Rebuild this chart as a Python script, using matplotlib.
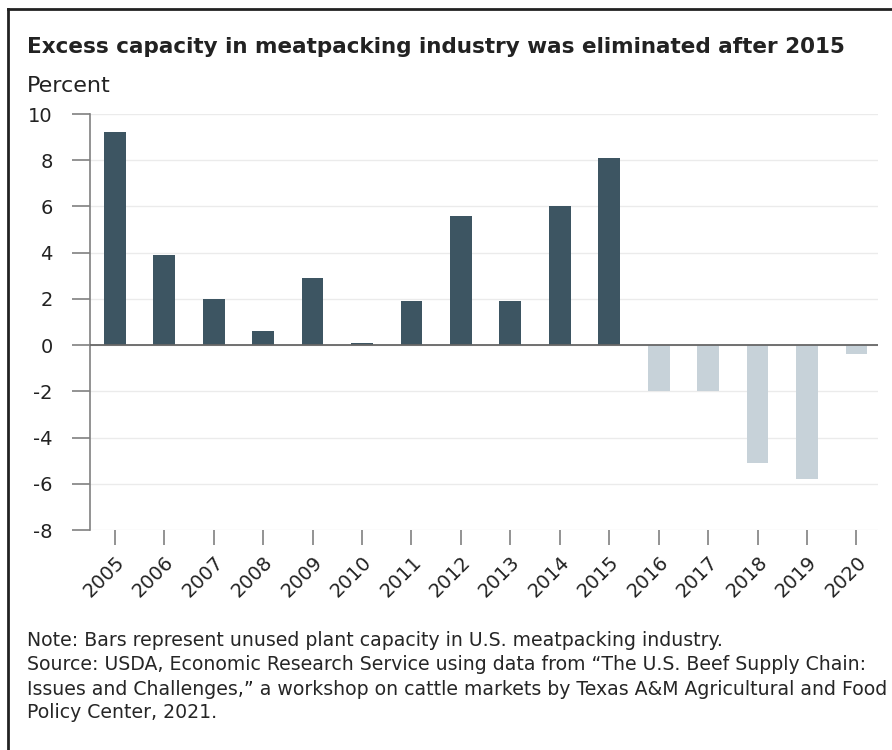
import matplotlib.pyplot as plt
from matplotlib.lines import Line2D

plt.rcParams['font.family'] = ['DejaVu Sans']
plt.rcParams['axes.unicode_minus'] = False

years = [str(y) for y in range(2005, 2021)]
values = [9.2, 3.9, 2.0, 0.6, 2.9, 0.1, 1.9, 5.6, 1.9, 6.0, 8.1,
          -2.0, -2.0, -5.1, -5.8, -0.4]
dark = '#3d5562'
light = '#c7d2d9'
colors = [dark if int(y) <= 2015 else light for y in years]

fig = plt.figure(figsize=(8.92, 7.5), dpi=100)
ax = fig.add_axes([0.101, 0.2933, 0.883, 0.5547])

x = range(len(years))
ax.bar(x, values, width=0.44, color=colors, zorder=3)
ax.axhline(0, color='#666666', lw=1.3, zorder=4)

ax.set_ylim(-8, 10)
ax.set_xlim(-0.5, 15.43)
ax.set_yticks(range(-8, 11, 2))
ax.grid(axis='y', color='#ebebeb', lw=1, zorder=0)
ax.set_xticks(list(x))
ax.set_xticklabels(years, rotation=45, ha='right', rotation_mode='anchor')

for s in ['top', 'right', 'bottom']:
    ax.spines[s].set_visible(False)
ax.spines['left'].set_color('#808080')
ax.spines['left'].set_linewidth(1.2)
ax.tick_params(axis='y', length=13, width=1.2, color='#808080',
               labelsize=14, labelcolor='#222222', pad=14)
ax.tick_params(axis='x', length=11, width=1.2, color='#808080',
               labelsize=14, labelcolor='#222222', pad=5, direction='out')

fig.text(0.030, 0.929, 'Excess capacity in meatpacking industry was eliminated after 2015',
         fontsize=15.5, fontweight='bold', color='#222222', va='baseline')
fig.text(0.030, 0.878, 'Percent', fontsize=16, color='#222222', va='baseline')

notes = ['Note: Bars represent unused plant capacity in U.S. meatpacking industry.',
         'Source: USDA, Economic Research Service using data from \u201cThe U.S. Beef Supply Chain:',
         'Issues and Challenges,\u201d a workshop on cattle markets by Texas A&M Agricultural and Food',
         'Policy Center, 2021.']
ys = [0.138, 0.106, 0.073, 0.042]
for t, yy in zip(notes, ys):
    fig.text(0.030, yy, t, fontsize=13.6, color='#262626', va='baseline')

# frame lines at top and left
fig.add_artist(Line2D([0.009, 1.0], [0.988, 0.988], color='#222222', lw=2))
fig.add_artist(Line2D([0.009, 0.009], [0.0, 0.988], color='#222222', lw=2))

fig.savefig('out.png', dpi=100)
